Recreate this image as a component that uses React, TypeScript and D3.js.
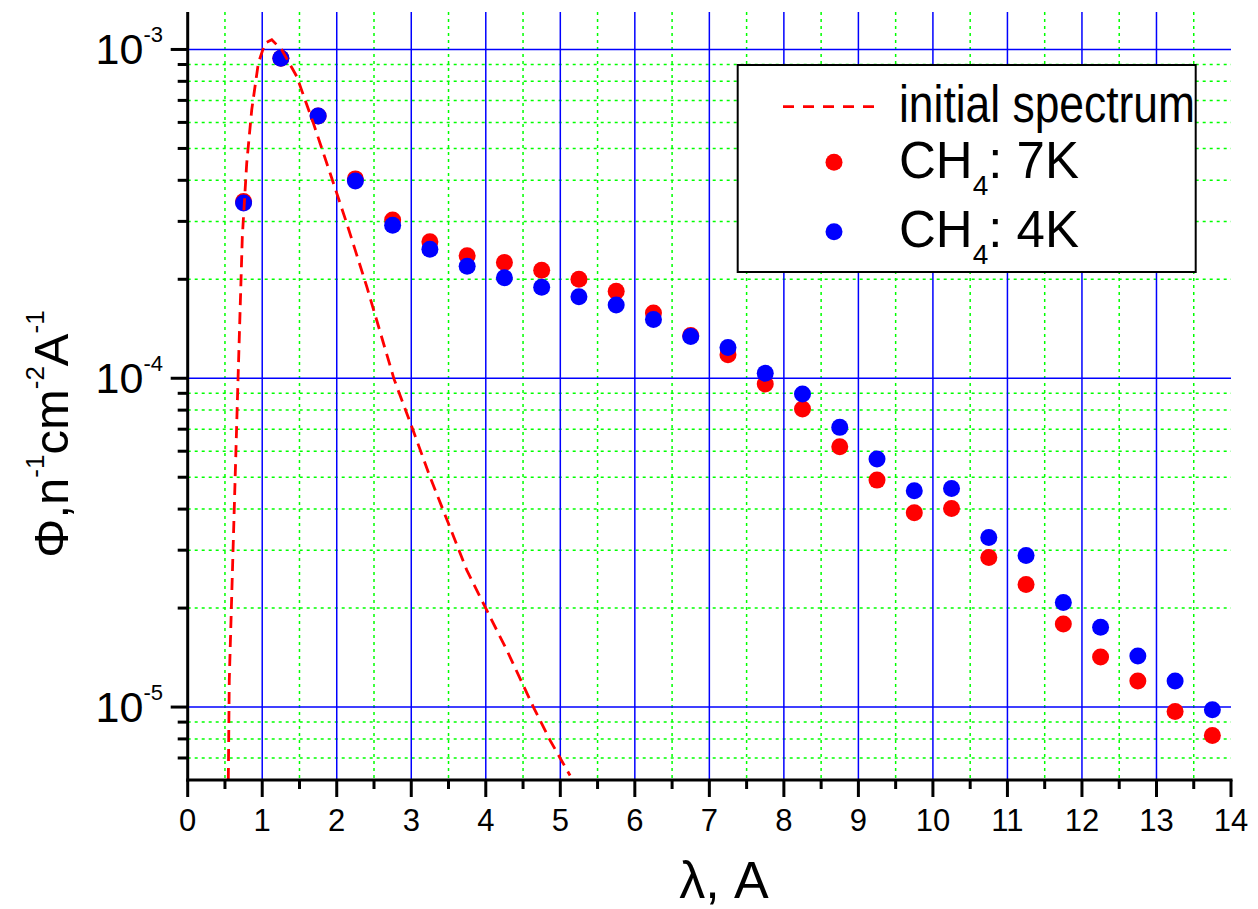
import React from "react";
import * as d3 from "d3";

// ---- data ----
const lambda = [0.75, 1.25, 1.75, 2.25, 2.75, 3.25, 3.75, 4.25, 4.75, 5.25, 5.75, 6.25, 6.75, 7.25, 7.75, 8.25, 8.75, 9.25, 9.75, 10.25, 10.75, 11.25, 11.75, 12.25, 12.75, 13.25, 13.75];
const ch4_7K = [3.45e-4, 9.41e-4, 6.28e-4, 4.04e-4, 3.03e-4, 2.6e-4, 2.36e-4, 2.25e-4, 2.13e-4, 2.0e-4, 1.84e-4, 1.58e-4, 1.35e-4, 1.18e-4, 9.6e-5, 8.06e-5, 6.19e-5, 4.9e-5, 3.9e-5, 4.02e-5, 2.85e-5, 2.36e-5, 1.79e-5, 1.42e-5, 1.2e-5, 9.7e-6, 8.2e-6];
const ch4_4K = [3.41e-4, 9.41e-4, 6.28e-4, 3.98e-4, 2.92e-4, 2.47e-4, 2.19e-4, 2.02e-4, 1.89e-4, 1.77e-4, 1.67e-4, 1.51e-4, 1.34e-4, 1.24e-4, 1.035e-4, 8.95e-5, 7.09e-5, 5.68e-5, 4.55e-5, 4.62e-5, 3.28e-5, 2.89e-5, 2.08e-5, 1.75e-5, 1.43e-5, 1.2e-5, 9.82e-6];
const specX = [0.545, 0.558, 0.671, 0.733, 0.792, 0.859, 0.948, 1.038, 1.128, 1.262, 1.463, 1.686, 1.91, 2.134, 2.403, 2.769, 3.007, 3.252, 3.498, 3.745, 4.013, 4.282, 4.639, 4.863, 5.131];
const specY = [6.0e-6, 1.21e-5, 9.2e-5, 2.7e-4, 4.51e-4, 6.55e-4, 9.09e-4, 1.046e-3, 1.07e-3, 9.98e-4, 8.28e-4, 5.97e-4, 4.21e-4, 2.96e-4, 1.9e-4, 9.94e-5, 7.12e-5, 5.01e-5, 3.62e-5, 2.61e-5, 1.97e-5, 1.49e-5, 1.0e-5, 7.92e-6, 6.19e-6];

const xMajorTicks = [0, 1, 2, 3, 4, 5, 6, 7, 8, 9, 10, 11, 12, 13, 14];
const xMinorTicks = [0.5, 1.5, 2.5, 3.5, 4.5, 5.5, 6.5, 7.5, 8.5, 9.5, 10.5, 11.5, 12.5, 13.5];
const yDecades = [1e-5, 1e-4, 1e-3];
const yDecadeExp = ["-5", "-4", "-3"];
const yMinorTicks = [7e-6, 8e-6, 9e-6, 2e-5, 3e-5, 4e-5, 5e-5, 6e-5, 7e-5, 8e-5, 9e-5, 2e-4, 3e-4, 4e-4, 5e-4, 6e-4, 7e-4, 8e-4, 9e-4];

const FONT = "'Liberation Sans', Arial, Helvetica, sans-serif";

export default function App() {
  const W = 1258, H = 909;
  const left = 187.7, right = 1231, top = 12, bottom = 780;
  const x = d3.scaleLinear().domain([0, 14]).range([left, right]);
  const y = d3.scaleLog().domain([6e-6, 1.3e-3]).range([bottom, top]);

  const line = d3
    .line<number>()
    .x((_, i) => x(specX[i]))
    .y((d) => y(d));

  const blue = "#0000ff";
  const green = "#00ff00";
  const red = "#ff0000";

  return (
    <svg width={W} height={H} style={{ position: "absolute", left: 0, top: 0, display: "block", background: "#fff" }} fontFamily={FONT}>
      <defs>
        <clipPath id="plot">
          <rect x={left} y={top} width={right - left} height={bottom - top} />
        </clipPath>
      </defs>
      <rect x={0} y={0} width={W} height={H} fill="#fff" />

      {/* minor grid */}
      {xMinorTicks.map((t) => (
        <line key={"gx" + t} x1={x(t)} x2={x(t)} y1={top} y2={bottom} stroke={green} strokeWidth={1.5} strokeDasharray="3,4" />
      ))}
      {yMinorTicks.map((t) => (
        <line key={"gy" + t} x1={left} x2={right} y1={y(t)} y2={y(t)} stroke={green} strokeWidth={1.5} strokeDasharray="3,4" />
      ))}
      {/* major grid */}
      {xMajorTicks.filter((t) => t > 0 && t < 14).map((t) => (
        <line key={"Gx" + t} x1={x(t)} x2={x(t)} y1={top} y2={bottom} stroke={blue} strokeWidth={1.5} />
      ))}
      {yDecades.map((t) => (
        <line key={"Gy" + t} x1={left} x2={right} y1={y(t)} y2={y(t)} stroke={blue} strokeWidth={1.5} />
      ))}

      {/* points */}
      {lambda.map((l, i) => (
        <circle key={"r" + i} cx={x(l)} cy={y(ch4_7K[i])} r={8.5} fill={red} />
      ))}
      {lambda.map((l, i) => (
        <circle key={"b" + i} cx={x(l)} cy={y(ch4_4K[i])} r={8.5} fill={blue} />
      ))}

      {/* initial spectrum */}
      <path d={line(specY) || ""} fill="none" stroke={red} strokeWidth={2.8} strokeDasharray="12,7" clipPath="url(#plot)" />

      {/* axes */}
      <line x1={left} x2={left} y1={top} y2={bottom + 1.5} stroke="#000" strokeWidth={3} />
      <line x1={left - 1.5} x2={right + 1.5} y1={bottom} y2={bottom} stroke="#000" strokeWidth={3} />
      {xMajorTicks.map((t) => (
        <g key={"xt" + t}>
          <line x1={x(t)} x2={x(t)} y1={bottom} y2={bottom + 17} stroke="#000" strokeWidth={3} />
          <text x={x(t)} y={831} fontSize={31} textAnchor="middle" fill="#000">{t}</text>
        </g>
      ))}
      {xMinorTicks.map((t) => (
        <line key={"xm" + t} x1={x(t)} x2={x(t)} y1={bottom} y2={bottom + 9} stroke="#000" strokeWidth={3} />
      ))}
      {yDecades.map((t, i) => (
        <g key={"yt" + t}>
          <line x1={left - 17} x2={left} y1={y(t)} y2={y(t)} stroke="#000" strokeWidth={3} />
          <text x={163} y={y(t) + 14.6} fontSize={43} textAnchor="end" fill="#000">
            10<tspan fontSize={22} dy={-22}>{yDecadeExp[i]}</tspan>
          </text>
        </g>
      ))}
      {yMinorTicks.map((t) => (
        <line key={"ym" + t} x1={left - 10} x2={left} y1={y(t)} y2={y(t)} stroke="#000" strokeWidth={3} />
      ))}

      {/* axis titles */}
      <text x={724} y={898} fontSize={52} textAnchor="middle" fill="#000">λ, A</text>
      <text transform="translate(68,434) rotate(-90)" fontSize={49} textAnchor="middle" fill="#000">
        Φ,n<tspan fontSize={26} dy={-24}>-1</tspan>
        <tspan dy={24}>cm</tspan>
        <tspan fontSize={26} dy={-24}>-2</tspan>
        <tspan dy={24}>A</tspan>
        <tspan fontSize={26} dy={-24}>-1</tspan>
      </text>

      {/* legend */}
      <rect x={737.7} y={65} width={458} height={207} fill="#fff" stroke="#000" strokeWidth={2} />
      <line x1={783} x2={883} y1={106.7} y2={106.7} stroke={red} strokeWidth={2.8} strokeDasharray="11,9" />
      <text x={899} y={121.7} fontSize={51} fill="#000" textLength={296} lengthAdjust="spacingAndGlyphs">initial spectrum</text>
      <circle cx={834} cy={162.3} r={8.5} fill={red} />
      <text x={899} y={178.3} fontSize={51} fill="#000">
        CH<tspan fontSize={28} dy={16.7}>4</tspan><tspan dy={-16.7}>: 7K</tspan>
      </text>
      <circle cx={834} cy={231.7} r={8.5} fill={blue} />
      <text x={899} y={247.3} fontSize={51} fill="#000">
        CH<tspan fontSize={28} dy={16.7}>4</tspan><tspan dy={-16.7}>: 4K</tspan>
      </text>
    </svg>
  );
}
